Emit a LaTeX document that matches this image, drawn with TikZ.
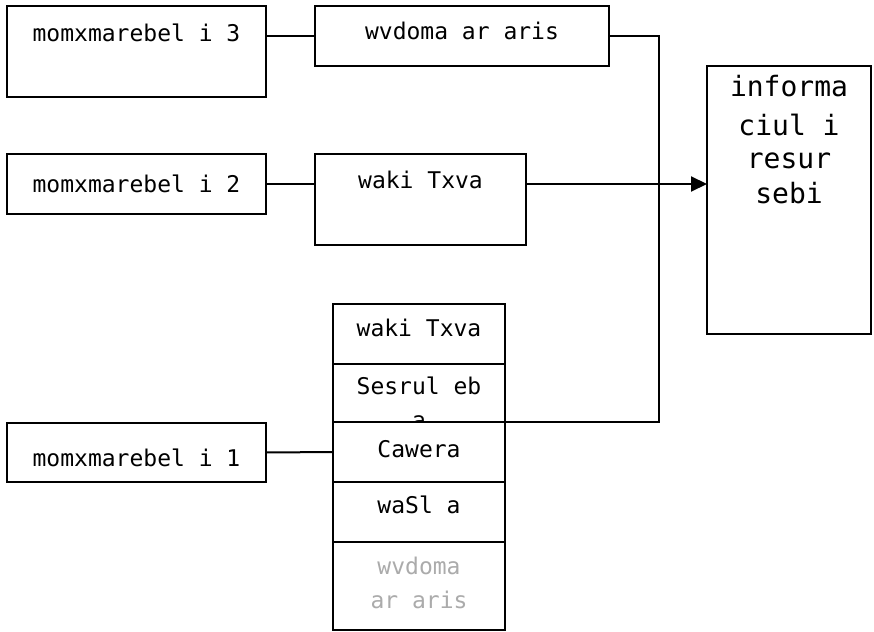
\documentclass[tikz,border=0pt]{standalone}
\usepackage{fontspec}
\newfontfamily\djm{DejaVu Sans Mono}
\usetikzlibrary{arrows.meta}
\begin{document}
\begin{tikzpicture}[x=1pt,y=-1pt,
  box/.style={draw=black,line width=2pt,fill=white,inner sep=0pt,outer sep=0pt},
  txt/.style={anchor=base,inner sep=0pt,font=\djm\fontsize{23}{28}\selectfont},
  bigtxt/.style={anchor=base,inner sep=0pt,font=\djm\fontsize{28}{34}\selectfont},
  graytxt/.style={txt,text=black!33},
  conn/.style={draw=black,line width=2pt},
  arr/.style={conn,-{Triangle[length=16pt,width=15pt]}}]
\useasboundingbox (0,0) rectangle (874,631);
% left boxes
\node[box,minimum width=259pt,minimum height=91pt] (m3) at (136.5,51.5) {};
\node[box,minimum width=259pt,minimum height=60pt] (m2) at (136.5,184) {};
\node[box,minimum width=259pt,minimum height=59pt] (m1) at (136.5,452.5) {};
\node[txt] (t3) at (136.5,42) {momxmarebel i 3};
\node[txt] (t2) at (136.5,192) {momxmarebel i 2};
\node[txt] (t1) at (136.5,466) {momxmarebel i 1};
% middle boxes
\node[box,minimum width=294pt,minimum height=60pt] (wv) at (462,36) {};
\node[txt] (twv) at (462,40) {wvdoma ar aris};
\node[box,minimum width=211pt,minimum height=91pt] (wk) at (420.5,199.5) {};
\node[txt] (twk) at (420.5,188) {waki Txva};
% info box
\node[box,minimum width=164pt,minimum height=268pt] (info) at (789,200) {};
\node[bigtxt] (i1) at (789,97) {informa};
\node[bigtxt] (i2) at (789,136) {ciul i};
\node[bigtxt] (i3) at (789,168) {resur};
\node[bigtxt] (i4) at (789,203) {sebi};
% stack
\node[box,minimum width=172pt,minimum height=60pt] (s1) at (419,334) {};
\node[txt] (ts1) at (419,336) {waki Txva};
\node[box,minimum width=172pt,minimum height=58pt] (s2) at (419,393) {};
\node[txt] (ts2) at (419,394) {Sesrul eb};
\node[txt] (ts2b) at (419,428) {a};
\node[box,minimum width=172pt,minimum height=60pt] (cam) at (419,452) {};
\node[txt] (tcam) at (419,457) {Cawera};
\node[box,minimum width=172pt,minimum height=60pt] (s4) at (419,512) {};
\node[txt] (ts4) at (419,513) {waSl a};
\node[box,minimum width=172pt,minimum height=88pt] (s5) at (419,586) {};
\node[graytxt] (ts5a) at (419,574) {wvdoma};
\node[graytxt] (ts5b) at (419,608) {ar aris};
% connectors
\coordinate (j) at (659,422);
\draw[conn] (m3.east |- wv.west) -- (wv.west);
\draw[conn] (m2.east) -- (m2.east -| wk.west);
\draw[conn] (m1.east) -- (cam.west);
\draw[conn] (wv.east) -| (j) -- (cam.north east);
\draw[arr] (m2.east -| wk.east) -- (m2.east -| info.west);
\end{tikzpicture}
\end{document}
